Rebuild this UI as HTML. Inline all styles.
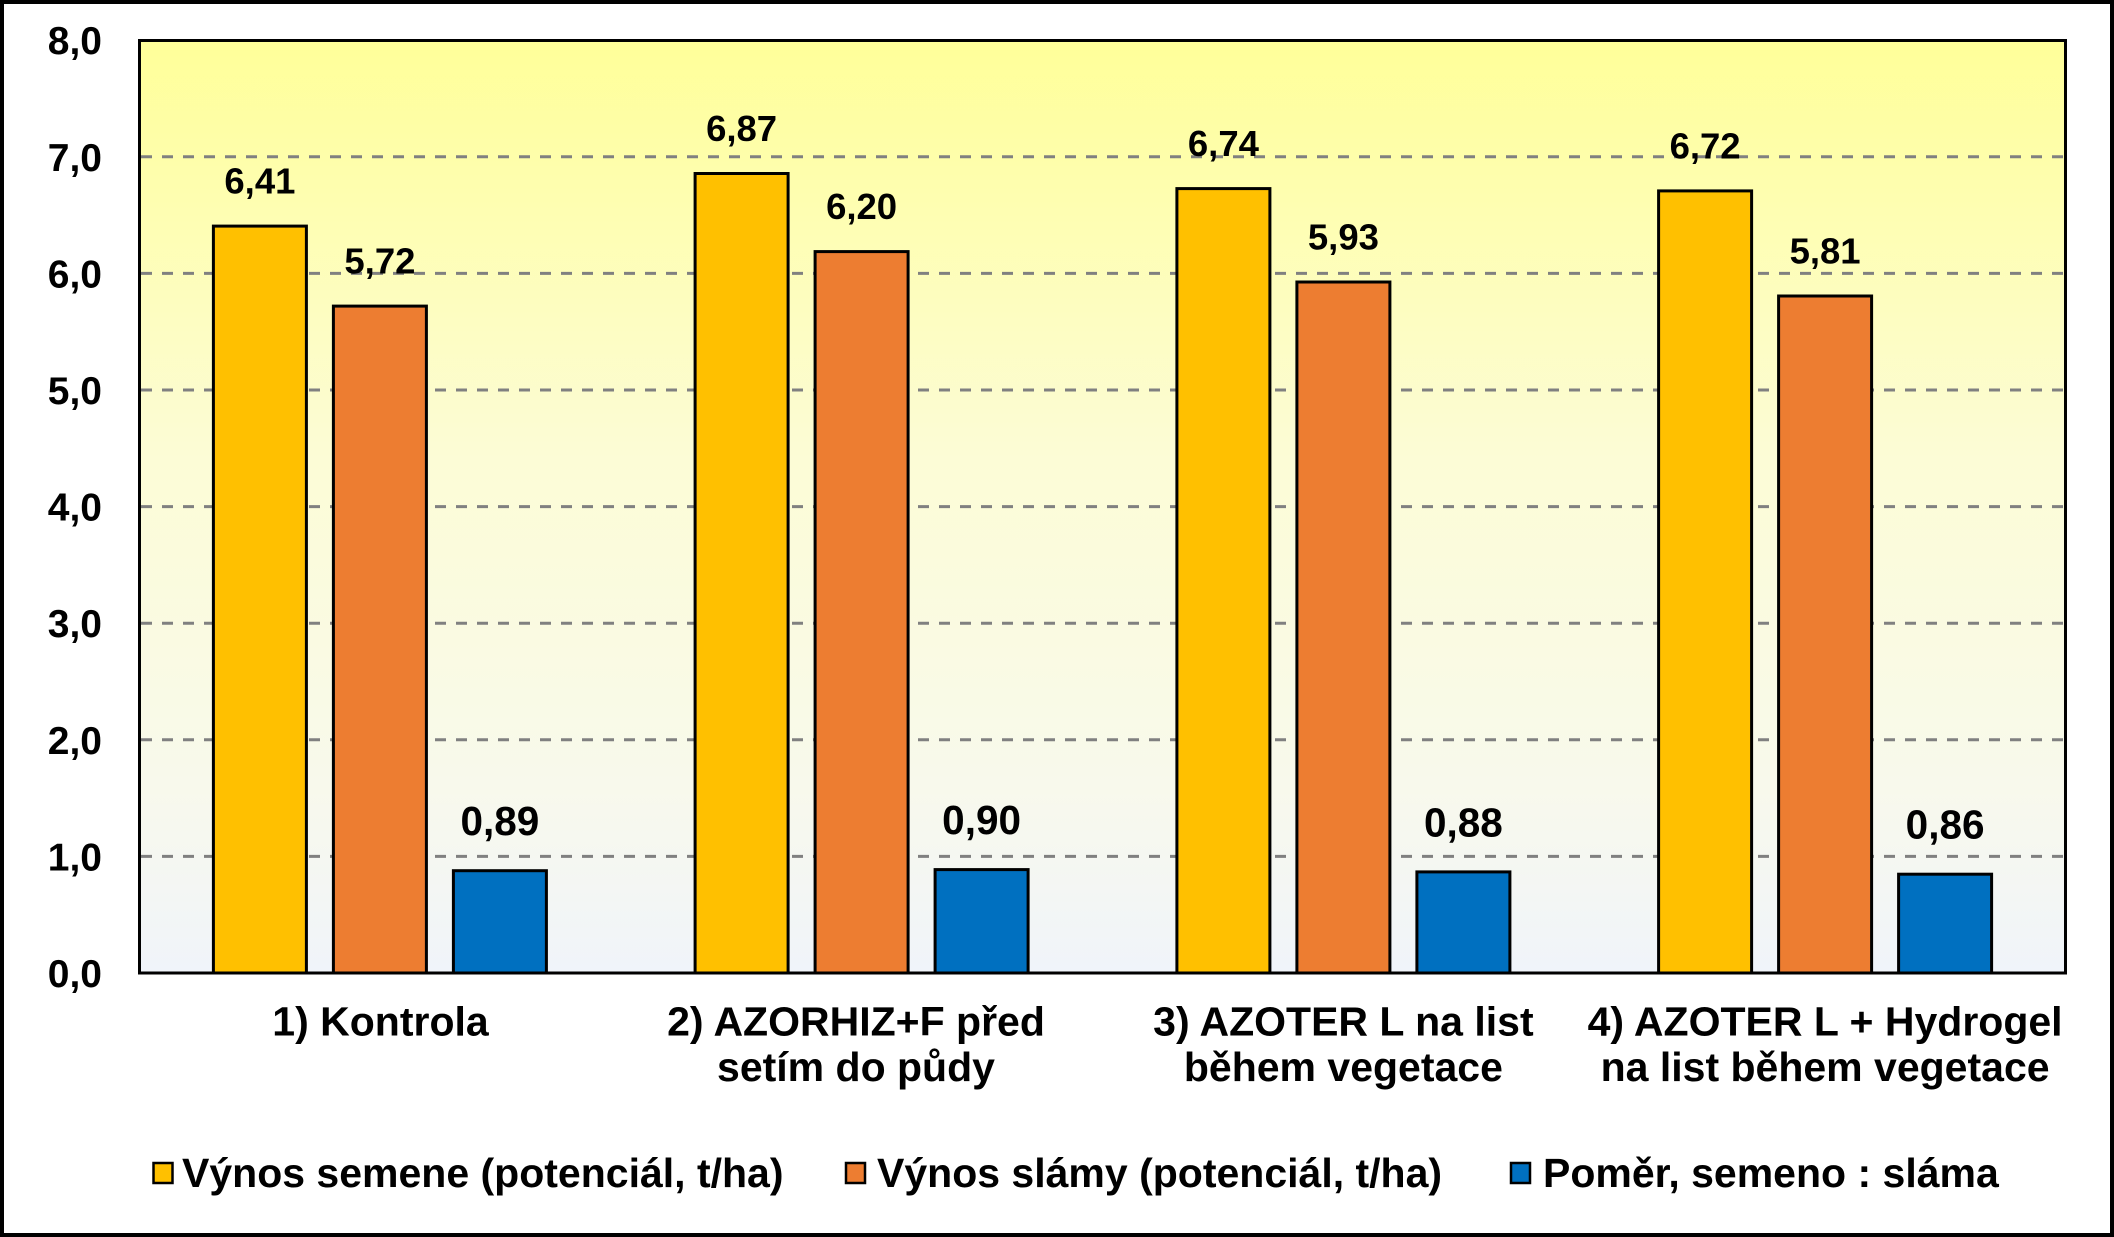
<!DOCTYPE html>
<html>
<head>
<meta charset="utf-8">
<style>
  html, body { margin: 0; padding: 0; background: #ffffff; }
  svg { display: block; }
  text { font-family: "Liberation Sans", Arial, sans-serif; font-weight: bold; fill: #000; }
</style>
</head>
<body>
<svg width="2114" height="1237" viewBox="0 0 2114 1237" xmlns="http://www.w3.org/2000/svg">
  <defs>
    <linearGradient id="bg" x1="0" y1="0" x2="0" y2="1">
      <stop offset="0" stop-color="#FFFF99"/>
      <stop offset="0.45" stop-color="#FCFCD6"/>
      <stop offset="0.8" stop-color="#F8F9EC"/>
      <stop offset="1" stop-color="#F0F4FA"/>
    </linearGradient>
  </defs>

  <!-- outer background & border -->
  <rect x="0" y="0" width="2114" height="1237" fill="#ffffff"/>
  <rect x="2" y="2" width="2110" height="1233" fill="none" stroke="#000" stroke-width="4"/>

  <!-- plot area background -->
  <rect x="139" y="40" width="1927" height="933" fill="url(#bg)"/>

  <!-- gridlines -->
  <g stroke="#808080" stroke-width="3" stroke-dasharray="11 10" fill="none">
    <line x1="141" y1="856.4" x2="2064" y2="856.4"/>
    <line x1="141" y1="739.8" x2="2064" y2="739.8"/>
    <line x1="141" y1="623.2" x2="2064" y2="623.2"/>
    <line x1="141" y1="506.6" x2="2064" y2="506.6"/>
    <line x1="141" y1="390.0" x2="2064" y2="390.0"/>
    <line x1="141" y1="273.4" x2="2064" y2="273.4"/>
    <line x1="141" y1="156.8" x2="2064" y2="156.8"/>
  </g>

  <!-- bars -->
  <g stroke="#000" stroke-width="3">
    <rect x="213.4" y="226.1" width="93" height="746.9" fill="#FFC000"/>
    <rect x="333.4" y="306.1" width="93" height="666.9" fill="#ED7D31"/>
    <rect x="453.4" y="870.7" width="93" height="102.3" fill="#0070C0"/>
    <rect x="695.1" y="173.5" width="93" height="799.5" fill="#FFC000"/>
    <rect x="815.1" y="251.6" width="93" height="721.4" fill="#ED7D31"/>
    <rect x="935.1" y="869.6" width="93" height="103.4" fill="#0070C0"/>
    <rect x="1176.9" y="188.6" width="93" height="784.4" fill="#FFC000"/>
    <rect x="1296.9" y="282.0" width="93" height="691" fill="#ED7D31"/>
    <rect x="1416.9" y="871.9" width="93" height="101.1" fill="#0070C0"/>
    <rect x="1658.6" y="190.9" width="93" height="782.1" fill="#FFC000"/>
    <rect x="1778.6" y="296.0" width="93" height="677" fill="#ED7D31"/>
    <rect x="1898.6" y="874.2" width="93" height="98.8" fill="#0070C0"/>
  </g>

  <!-- plot area border -->
  <rect x="139.5" y="40.5" width="1926" height="932.5" fill="none" stroke="#000" stroke-width="3"/>

  <!-- y axis labels -->
  <g font-size="39" text-anchor="end">
    <text x="102" y="54">8,0</text>
    <text x="102" y="170.8">7,0</text>
    <text x="102" y="287.4">6,0</text>
    <text x="102" y="404">5,0</text>
    <text x="102" y="520.6">4,0</text>
    <text x="102" y="637.2">3,0</text>
    <text x="102" y="753.8">2,0</text>
    <text x="102" y="870.4">1,0</text>
    <text x="102" y="987">0,0</text>
  </g>

  <!-- data labels: yellow / orange -->
  <g font-size="36.5" text-anchor="middle">
    <text x="259.9" y="193.6">6,41</text>
    <text x="379.9" y="273.6">5,72</text>
    <text x="741.6" y="141">6,87</text>
    <text x="861.6" y="219.1">6,20</text>
    <text x="1223.4" y="156.1">6,74</text>
    <text x="1343.4" y="249.5">5,93</text>
    <text x="1705.1" y="158.4">6,72</text>
    <text x="1825.1" y="263.5">5,81</text>
  </g>
  <!-- data labels: blue -->
  <g font-size="40.5" text-anchor="middle">
    <text x="499.9" y="835.2">0,89</text>
    <text x="981.6" y="834.1">0,90</text>
    <text x="1463.4" y="836.4">0,88</text>
    <text x="1945.1" y="838.7">0,86</text>
  </g>

  <!-- category labels -->
  <g font-size="41" text-anchor="middle">
    <text x="380.5" y="1035.5">1) Kontrola</text>
    <text x="856" y="1035.5">2) AZORHIZ+F před</text>
    <text x="856" y="1081">setím do půdy</text>
    <text x="1343.4" y="1035.5">3) AZOTER L na list</text>
    <text x="1343.4" y="1081">během vegetace</text>
    <text x="1825.1" y="1035.5">4) AZOTER L + Hydrogel</text>
    <text x="1825.1" y="1081">na list během vegetace</text>
  </g>

  <!-- legend -->
  <g stroke="#000" stroke-width="2.5">
    <rect x="153.5" y="1163" width="19" height="20" fill="#FFC000"/>
    <rect x="846" y="1163" width="19" height="20" fill="#ED7D31"/>
    <rect x="1511" y="1163" width="19" height="20" fill="#0070C0"/>
  </g>
  <g font-size="41">
    <text x="182" y="1187">Výnos semene (potenciál, t/ha)</text>
    <text x="877" y="1187">Výnos slámy (potenciál, t/ha)</text>
    <text x="1543" y="1187">Poměr, semeno : sláma</text>
  </g>
</svg>
</body>
</html>
